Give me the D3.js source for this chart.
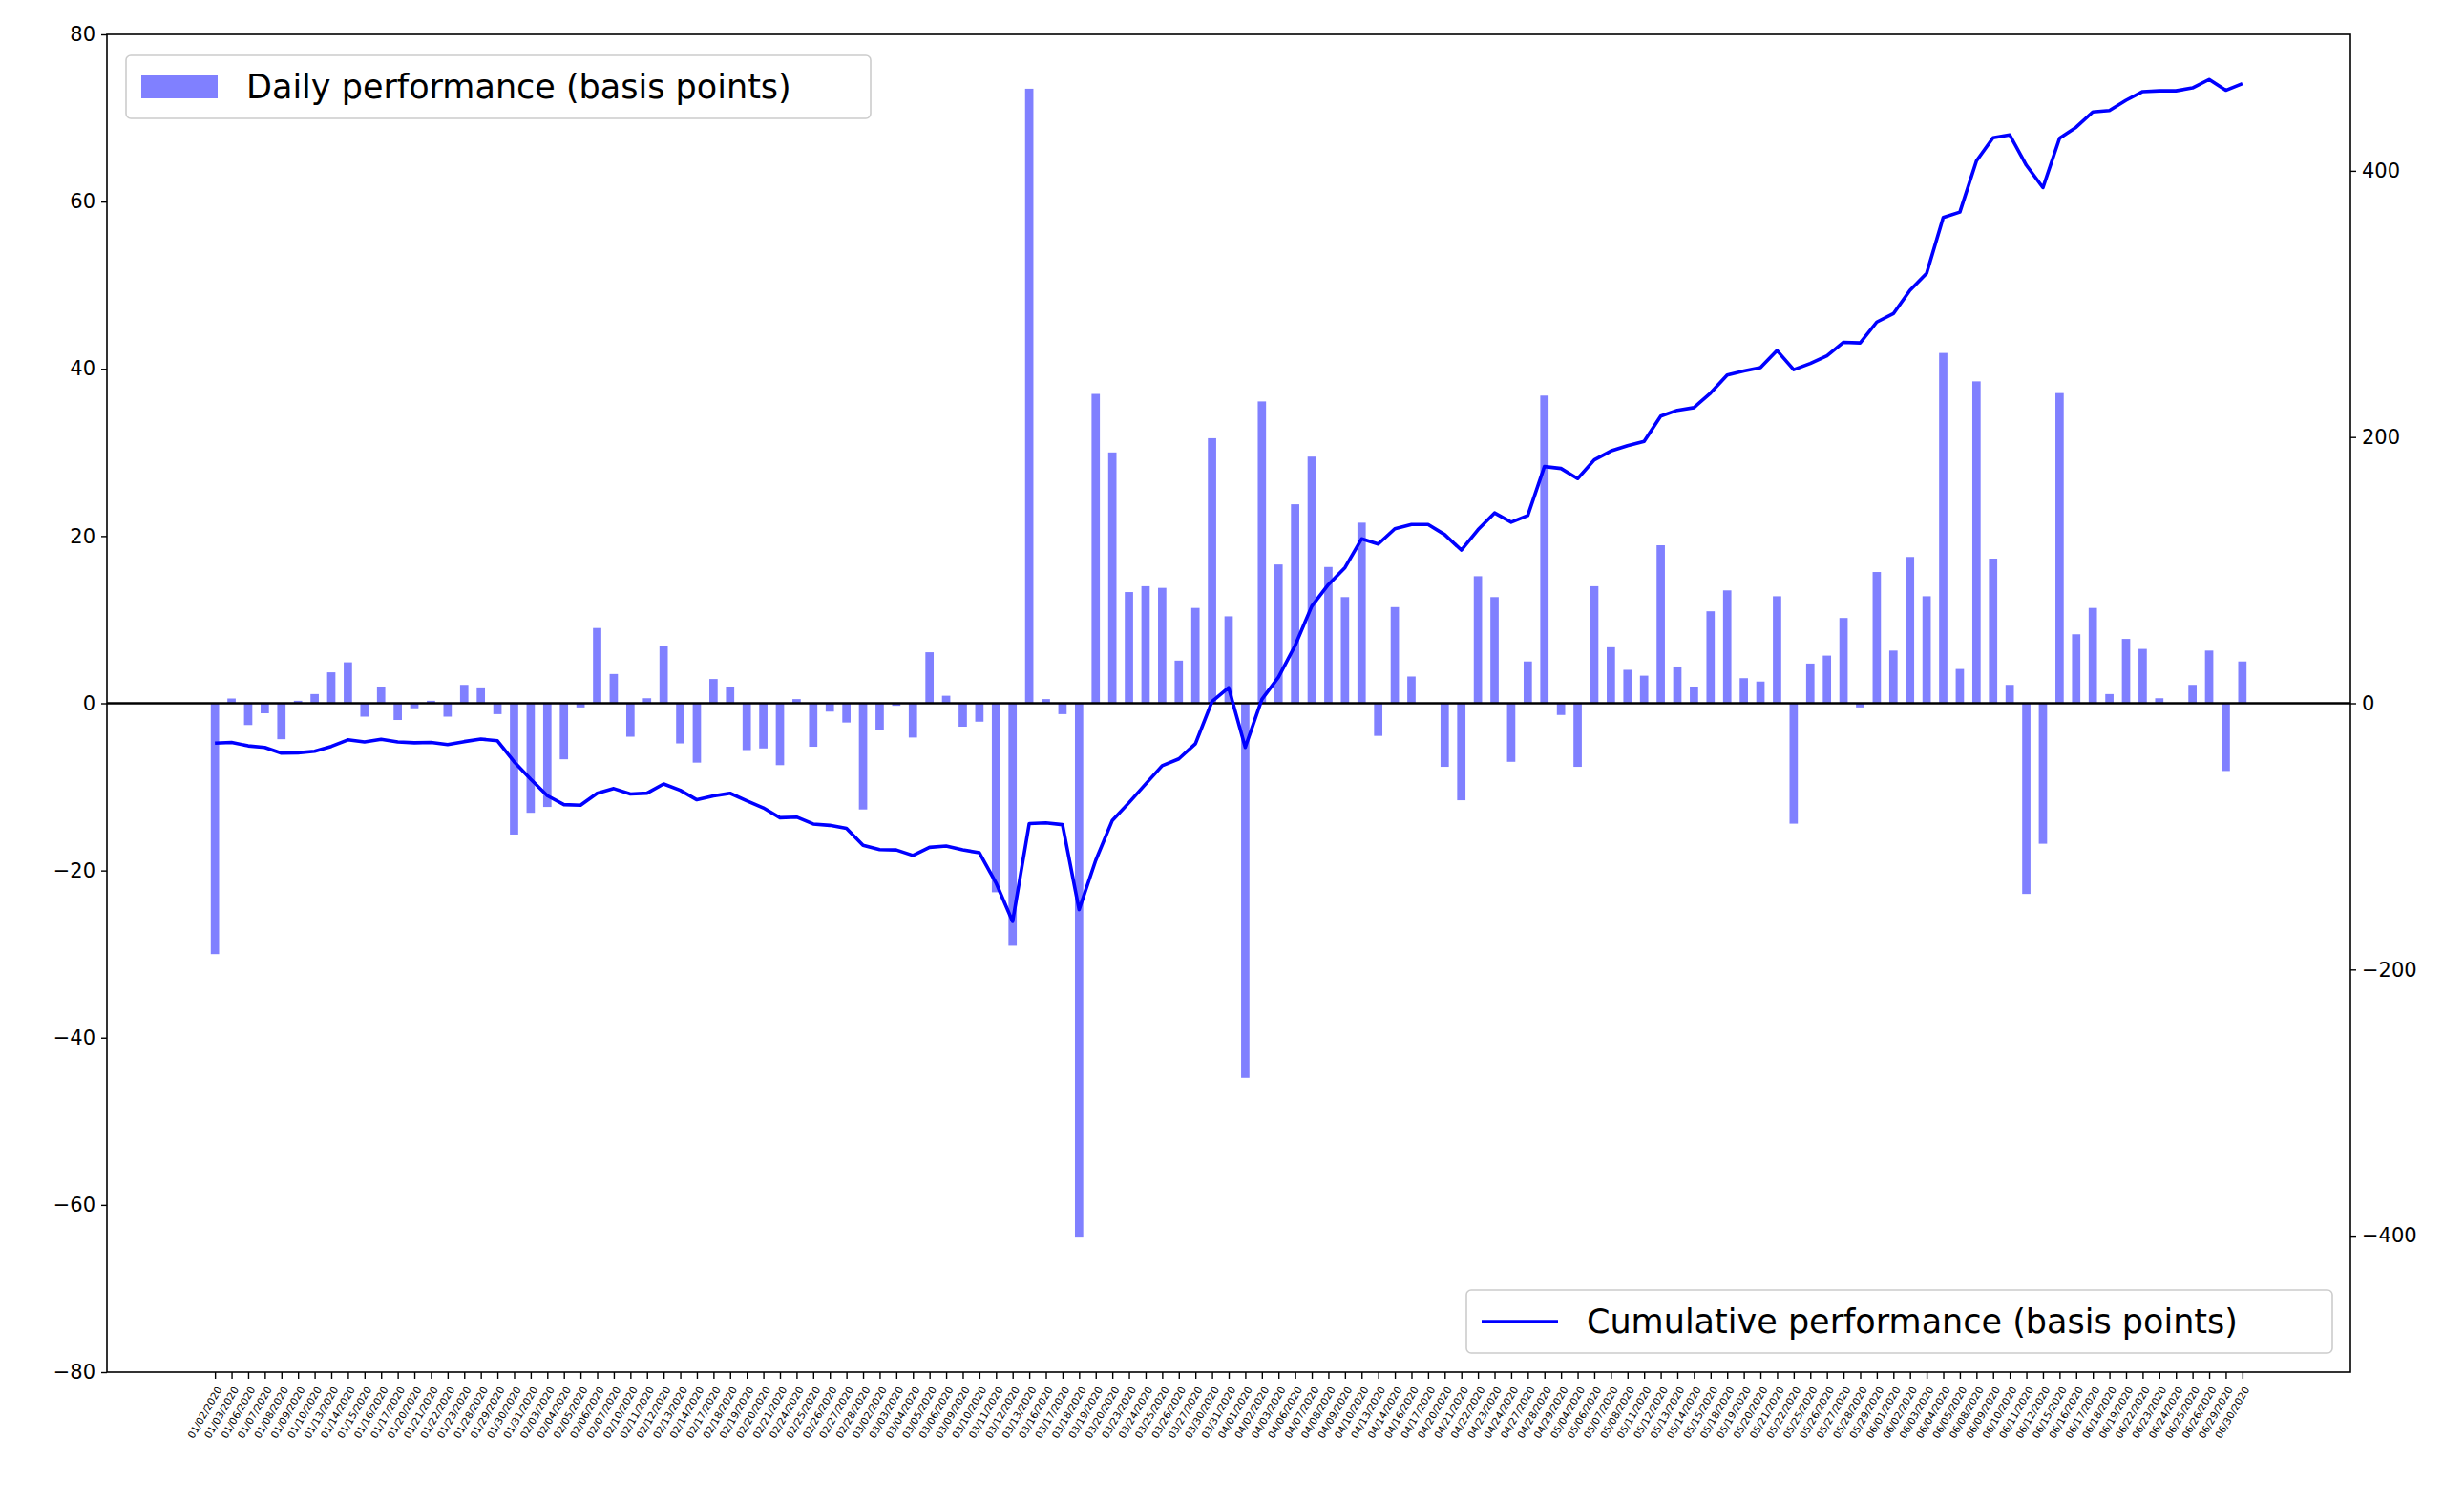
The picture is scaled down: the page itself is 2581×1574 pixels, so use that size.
<!DOCTYPE html>
<html><head><meta charset="utf-8">
<script src="https://cdn.jsdelivr.net/npm/d3@7"></script>
<style>body{margin:0;background:#fff}text{font-family:"DejaVu Sans",sans-serif}</style>
</head><body><svg id="c" width="2581" height="1574"></svg>
<script>
const dates = ["01/02","01/03","01/06","01/07","01/08","01/09","01/10","01/13","01/14","01/15","01/16","01/17","01/20","01/21","01/22","01/23","01/28","01/29","01/30","01/31",
"02/03","02/04","02/05","02/06","02/07","02/10","02/11","02/12","02/13","02/14","02/17","02/18","02/19","02/20","02/21","02/24","02/25","02/26","02/27","02/28",
"03/02","03/03","03/04","03/05","03/06","03/09","03/10","03/11","03/12","03/13","03/16","03/17","03/18","03/19","03/20","03/23","03/24","03/25","03/26","03/27","03/30","03/31",
"04/01","04/02","04/03","04/06","04/07","04/08","04/09","04/10","04/13","04/14","04/16","04/17","04/20","04/21","04/22","04/23","04/24","04/27","04/28","04/29",
"05/04","05/06","05/07","05/08","05/11","05/12","05/13","05/14","05/15","05/18","05/19","05/20","05/21","05/22","05/25","05/26","05/27","05/28","05/29",
"06/01","06/02","06/03","06/04","06/05","06/08","06/09","06/10","06/11","06/12","06/15","06/16","06/17","06/18","06/19","06/22","06/23","06/24","06/25","06/26","06/29","06/30"].map(d=>d+"/2020");
const daily = [-30,0.57,-2.6,-1.2,-4.3,0.3,1.1,3.7,4.9,-1.6,2.0,-2.0,-0.6,0.3,-1.6,2.2,1.9,-1.3,-15.7,-13.1,
-12.4,-6.7,-0.5,9.0,3.5,-4.0,0.6,6.9,-4.8,-7.1,2.9,2.0,-5.6,-5.4,-7.4,0.5,-5.2,-1.0,-2.3,-12.7,
-3.2,-0.3,-4.1,6.1,0.9,-2.8,-2.2,-22.6,-29.0,73.5,0.5,-1.3,-63.8,37.0,30.0,13.3,14.0,13.8,5.1,11.4,31.7,10.4,
-44.8,36.1,16.6,23.8,29.5,16.3,12.7,21.6,-3.9,11.5,3.2,0,-7.6,-11.6,15.2,12.7,-7.0,5.0,36.8,-1.4,
-7.6,14.0,6.7,4.0,3.3,18.9,4.4,2.0,11.0,13.5,3.0,2.6,12.8,-14.4,4.75,5.7,10.2,-0.5,15.7,
6.3,17.5,12.8,41.9,4.1,38.5,17.3,2.2,-22.8,-16.8,37.1,8.25,11.4,1.1,7.7,6.5,0.6,0,2.2,6.3,-8.1,5.0];
const cumulative = [-30,-29.4,-32,-33.2,-37.5,-37.2,-36.1,-32.4,-27.5,-29.1,-27.1,-29.1,-29.7,-29.4,-31,-28.8,-26.9,-28.2,-43.9,-57,
-69.4,-76.1,-76.6,-67.6,-64.1,-68.1,-67.5,-60.6,-65.4,-72.5,-69.6,-67.6,-73.2,-78.6,-86,-85.5,-90.7,-91.7,-94,-106.7,
-109.9,-110.2,-114.3,-108.2,-107.3,-110.1,-112.3,-134.9,-163.9,-90.4,-89.9,-91.2,-155,-118,-88,-74.7,-60.7,-46.9,-41.8,-30.4,1.3,11.7,
-33.1,3,19.6,43.4,72.9,89.2,101.9,123.5,119.6,131.1,134.3,134.3,126.7,115.1,130.3,143,136,141,177.8,176.4,
168.8,182.8,189.5,193.5,196.8,215.7,220.1,222.1,233.1,246.6,249.6,252.2,265,250.6,255.3,261,271.2,270.7,286.4,
292.7,310.2,323,364.9,369,407.5,424.8,427,404.2,387.4,424.5,432.8,444.2,445.3,453,459.5,460.1,460.1,462.3,468.6,460.5,465.5];
const leftTicks = [-80,-60,-40,-20,0,20,40,60,80];
const rightTicks = [-400,-200,0,200,400];

const L=112,R=2462,T=36,B=1437;
const svg=d3.select("#c");
const x=d3.scaleLinear().domain([-6.5,dates.length-1+6.5]).range([L,R]);
const y=d3.scaleLinear().domain([-80,80]).range([B,T]);
const y2=d3.scaleLinear().domain([-502.5,502.5]).range([B,T]);
const bw=(x(1)-x(0))*0.5;

svg.append("g").selectAll("rect").data(daily).join("rect")
 .attr("x",(d,i)=>x(i)-bw/2).attr("width",bw)
 .attr("y",d=>y(Math.max(0,d))).attr("height",d=>Math.abs(y(d)-y(0)))
 .attr("fill","rgb(128,128,255)");
svg.append("line").attr("x1",L).attr("x2",R).attr("y1",y(0)).attr("y2",y(0)).attr("stroke","#000").attr("stroke-width",2.6);
svg.append("path").datum(cumulative).attr("fill","none").attr("stroke","#0000ff").attr("stroke-width",3.6)
 .attr("stroke-linejoin","round")
 .attr("d",d3.line().x((d,i)=>x(i)).y(d=>y2(d)));

svg.append("rect").attr("x",L).attr("y",T).attr("width",R-L).attr("height",B-T).attr("fill","none").attr("stroke","#000").attr("stroke-width",1.6);

const ya=svg.append("g").attr("transform",`translate(${L},0)`).call(d3.axisLeft(y).tickValues(leftTicks).tickSize(6).tickPadding(6).tickFormat(d=>d<0?"\u2212"+(-d):d));
const yb=svg.append("g").attr("transform",`translate(${R},0)`).call(d3.axisRight(y2).tickValues(rightTicks).tickSize(6).tickPadding(6).tickFormat(d=>d<0?"\u2212"+(-d):d));
const xa=svg.append("g").attr("transform",`translate(0,${B})`).call(d3.axisBottom(x).tickValues(d3.range(dates.length)).tickSize(7).tickFormat(i=>dates[i]));
[ya,yb,xa].forEach(g=>{g.select(".domain").remove();g.selectAll("line").attr("stroke","#000").attr("stroke-width",1.4);g.selectAll("text").attr("fill","#000").style("font-family","DejaVu Sans");});
ya.selectAll("text").style("font-size","21px");yb.selectAll("text").style("font-size","21px");
xa.selectAll("text").style("font-size","10.5px").attr("text-anchor","end").attr("dy","0.35em")
 .attr("transform","translate(4,16) rotate(-60)").attr("y",0).attr("x",0);

function legend(bx,by,w,h,kind,label){
 const g=svg.append("g");
 g.append("rect").attr("x",bx).attr("y",by).attr("width",w).attr("height",h).attr("rx",5).attr("fill","#fff").attr("fill-opacity",0.8).attr("stroke","#ccc").attr("stroke-width",1.6);
 if(kind==="bar") g.append("rect").attr("x",bx+16).attr("y",by+h/2-12).attr("width",80).attr("height",24).attr("fill","rgb(128,128,255)");
 else g.append("line").attr("x1",bx+16).attr("x2",bx+96).attr("y1",by+h/2).attr("y2",by+h/2).attr("stroke","#0000ff").attr("stroke-width",3.6);
 g.append("text").attr("x",bx+126).attr("y",by+h/2).attr("dy","0.35em").style("font-size","35px").text(label);
}
legend(132,58,780,66,"bar","Daily performance (basis points)");
legend(1536,1351,907,66,"line","Cumulative performance (basis points)");
</script></body></html>
